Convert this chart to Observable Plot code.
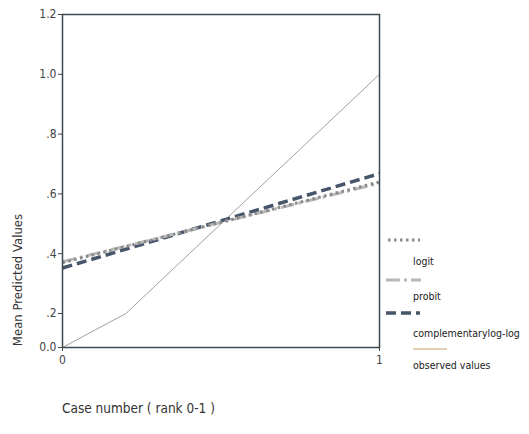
<!DOCTYPE html>
<html><head><meta charset="utf-8">
<script src="https://cdn.jsdelivr.net/npm/d3@7"></script>
<script src="https://cdn.jsdelivr.net/npm/@observablehq/plot@0.6"></script>
<style>
body{margin:0;background:#fff;}
</style></head><body>
<div id="chart"></div>
<script>
const xs = [0, 1];
const logit = [0.37, 0.64];
const probit = [0.373, 0.636];
const cloglog = [0.352, 0.668];
const observedX = [0, 0.2, 0.4, 0.6, 0.8, 1];
const observed = [0, 0.2, 0.4, 0.6, 0.8, 1];
const seriesNames = ["logit", "probit", "complementarylog-log", "observed values"];
const yTicks = [0, 0.2, 0.4, 0.6, 0.8, 1.0, 1.2];
const xTicks = [0, 1];
const xLabel = "Case number ( rank 0-1 )";
const yLabel = "Mean Predicted Values";

const FONT = "'DejaVu Sans Condensed', 'DejaVu Sans', sans-serif";
const styles = {
  "logit": {stroke: "#8a8a8a", strokeWidth: 3, dash: "2.5,3.5"},
  "probit": {stroke: "#b8b8b8", strokeWidth: 3, dash: "14,4,3,4"},
  "complementarylog-log": {stroke: "#46556a", strokeWidth: 3.5, dash: "10,5"},
  "observed values": {stroke: "#a0a0a0", strokeWidth: 1, dash: null}
};
const legendColor = {"observed values": "#c9a46a"};

const rows = [];
[[logit, xs], [probit, xs], [cloglog, xs], [observed, observedX]].forEach(([vals, xv], i) =>
  xv.forEach((x, j) => rows.push({series: seriesNames[i], x, y: vals[j]})));

const W = 529, H = 434, mL = 62, mR = 150, mT = 14, mB = 87;
const fmt = d => d === 0 ? "0.0" : (d >= 1 ? d.toFixed(1) : d.toFixed(1).replace(/^0/, ""));

const marks = [];
["observed values", "complementarylog-log", "probit", "logit"].forEach(s => {
  const st = styles[s];
  marks.push(Plot.line(rows.filter(r => r.series === s), {
    x: "x", y: "y", stroke: st.stroke, strokeWidth: st.strokeWidth,
    strokeDasharray: st.dash || undefined, strokeLinecap: "butt"
  }));
});
marks.push(Plot.frame({stroke: "#3c4a50", strokeWidth: 1.5}));
marks.push(Plot.axisY({ticks: yTicks, tickFormat: fmt, tickSize: 4, tickPadding: 2, label: null, fontSize: 12, color: "#444"}));
marks.push(Plot.axisX({ticks: xTicks, tickFormat: d => String(d), tickSize: 4, tickPadding: 4, label: null, fontSize: 12, color: "#444"}));

const chart = Plot.plot({
  width: W, height: H,
  marginLeft: mL, marginRight: mR, marginTop: mT, marginBottom: mB,
  style: {fontFamily: FONT, background: "#fff"},
  x: {domain: [0, 1]},
  y: {type: "linear", domain: [0, 0.2, 1.2], range: [H - mB, H - mB - 34, mT]},
  marks
});
document.getElementById("chart").appendChild(chart);

const svg = d3.select(chart);
svg.append("text").attr("x", mL).attr("y", 413).attr("text-anchor", "start").attr("font-size", 13.5).attr("fill", "#333")
  .attr("font-family", FONT).text(xLabel);
svg.append("text").attr("transform", "translate(22,280) rotate(-90)").attr("text-anchor", "middle")
  .attr("font-size", 13).attr("fill", "#333").attr("font-family", FONT).text(yLabel);

// legend
const lg = svg.append("g").attr("font-family", FONT).attr("font-size", 10.5).attr("fill", "#222").attr("text-anchor", "start");
const symY = [240, 280, 313, 349], txtY = [265, 300, 337, 369];
const symX1 = [388, 386, 386, 413], symX2 = [420, 421, 420, 447];
seriesNames.forEach((s, i) => {
  const st = styles[s];
  lg.append("line").attr("x1", symX1[i]).attr("x2", symX2[i]).attr("y1", symY[i]).attr("y2", symY[i])
    .attr("stroke", legendColor[s] || st.stroke).attr("stroke-width", st.strokeWidth)
    .attr("stroke-dasharray", st.dash);
  lg.append("text").attr("x", 413).attr("y", txtY[i]).text(s);
});
</script></body></html>
